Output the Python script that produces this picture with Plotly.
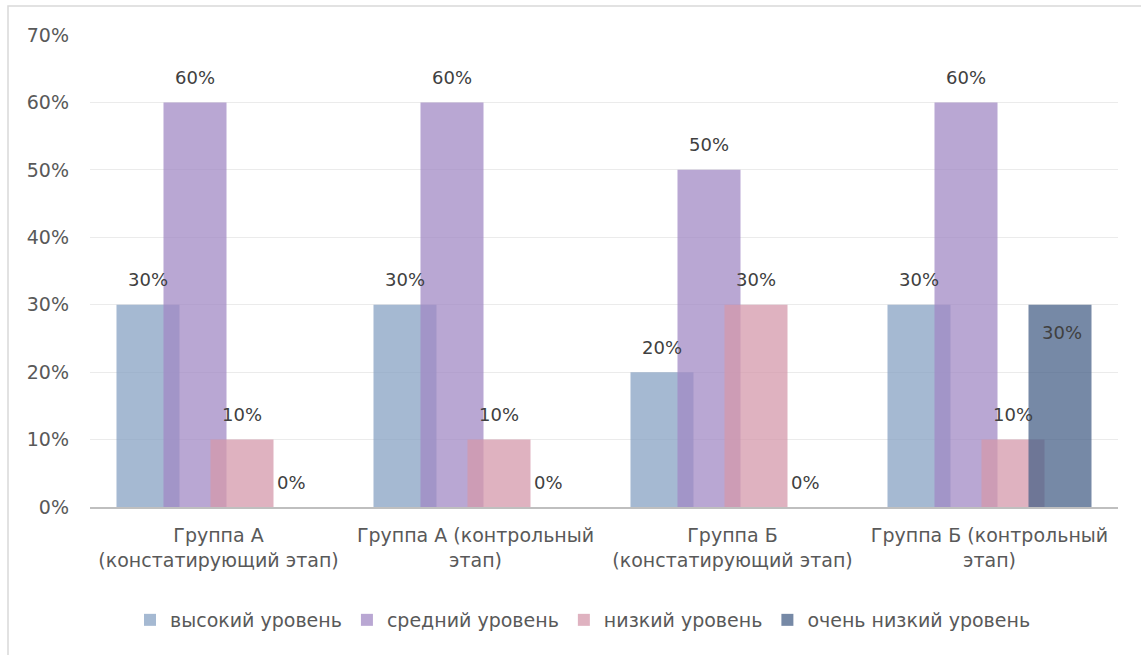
import plotly.graph_objects as go

categories = ["Группа А<br>(констатирующий этап)", "Группа А (контрольный<br>этап)",
              "Группа Б<br>(констатирующий этап)", "Группа Б (контрольный<br>этап)"]
series_names = ["высокий уровень", "средний уровень", "низкий уровень", "очень низкий уровень"]
high = [0.30, 0.30, 0.20, 0.30]
medium = [0.60, 0.60, 0.50, 0.60]
low = [0.10, 0.10, 0.30, 0.10]
very_low = [0.0, 0.0, 0.0, 0.30]

series_values = [high, medium, low, very_low]
colors = ["rgba(135,162,195,0.75)", "rgba(162,138,196,0.75)",
          "rgba(212,152,171,0.75)", "rgba(72,98,136,0.75)"]

FONT = "DejaVu Sans"
W = 1141
H = 655
ml, mr, mt, mb = 90, 23, 35, 148
plot_w = W - ml - mr
plot_h = H - mt - mb
cat_px = plot_w / len(categories)
bar_w = 63 / cat_px
step = 47 / cat_px
offsets = [(-1.5 + i) * step - bar_w / 2 for i in range(4)]

fig = go.Figure()
for i, (name, vals) in enumerate(zip(series_names, series_values)):
    fig.add_trace(go.Bar(
        x=categories, y=vals, name=name,
        marker=dict(color=colors[i], line=dict(width=0)),
        width=bar_w, offset=offsets[i],
    ))

annotations = []
for i, vals in enumerate(series_values):
    center = offsets[i] + bar_w / 2
    for j, v in enumerate(vals):
        inside = (i == 3 and v > 0)
        annotations.append(dict(
            x=categories[j], y=v, xref="x", yref="y",
            text=f"{round(v*100)}%", showarrow=False,
            xshift=center * cat_px + (2 if i == 3 else 0),
            yshift=-28 if inside else 25,
            font=dict(family=FONT, size=18, color="#404040"),
        ))

fig.update_layout(
    width=W, height=H,
    margin=dict(l=ml, r=mr, t=mt, b=mb),
    paper_bgcolor="white", plot_bgcolor="white",
    barmode="overlay",
    font=dict(family=FONT, size=19, color="#595959"),
    annotations=annotations,
    showlegend=True,
    legend=dict(orientation="h", x=(583 - ml) / plot_w, xanchor="center",
                y=-(620 - (H - mb)) / plot_h,
                yanchor="middle", font=dict(family=FONT, size=19, color="#595959"),
                itemsizing="constant", traceorder="normal", itemwidth=30),
    shapes=[dict(type="rect", xref="paper", yref="paper",
                 x0=(8 - ml) / plot_w, x1=(W + 5 - ml) / plot_w,
                 y0=-(H + 5 - (H - mb)) / plot_h, y1=1 + (mt - 6) / plot_h,
                 line=dict(color="#d9d9d9", width=1.5), fillcolor="rgba(0,0,0,0)", layer="below")],
)
fig.update_xaxes(showgrid=False, showline=True, linecolor="#bfbfbf", linewidth=2,
                 ticks="", ticklabelstandoff=10, tickfont=dict(family=FONT, size=19, color="#595959"))
fig.update_yaxes(range=[0, 0.7], dtick=0.1, tickformat=".0%", showgrid=True,
                 gridcolor="#ebebeb", gridwidth=1, zeroline=False, showline=False,
                 ticks="", ticklabelstandoff=20, tickfont=dict(family=FONT, size=19, color="#595959"))

fig.write_html("out.html")
